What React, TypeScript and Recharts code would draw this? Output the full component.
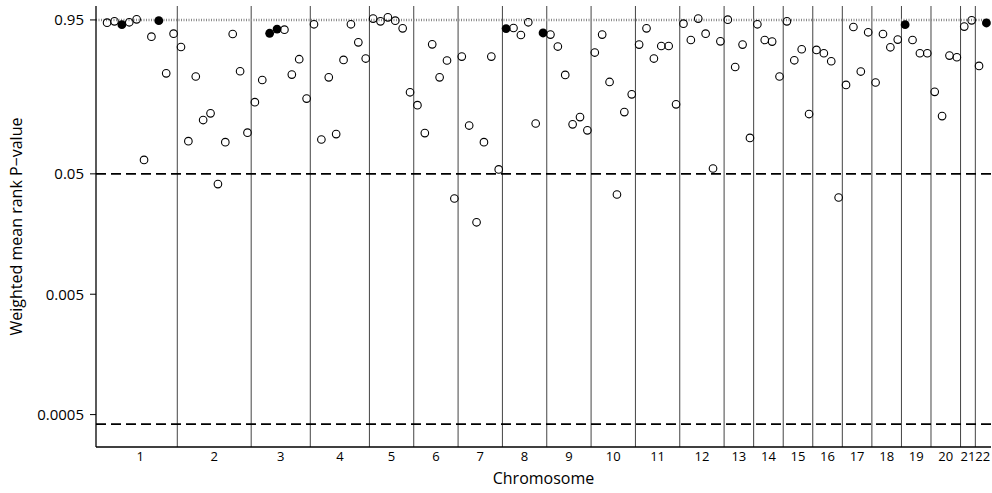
import React from 'react';
import { ScatterChart, Scatter, XAxis, YAxis, ReferenceLine } from 'recharts';

// chromosomes and how many tested loci each one holds (points are spaced by index)
const chromosomes = ['1', '2', '3', '4', '5', '6', '7', '8', '9', '10', '11', '12', '13', '14', '15', '16', '17', '18', '19', '20', '21', '22'];
const snpCounts = [10, 10, 8, 8, 6, 6, 6, 6, 6, 6, 6, 6, 4, 4, 4, 4, 4, 4, 4, 4, 2, 2];

// weighted mean rank P-values, in genome order
const pValues = [
  0.902, 0.925, 0.868, 0.908, 0.961, 0.0653, 0.69, 0.937, 0.342, 0.731,
  0.566, 0.0934, 0.322, 0.14, 0.159, 0.0411, 0.0917, 0.726, 0.356, 0.11,
  0.197, 0.301, 0.736, 0.798, 0.789, 0.334, 0.448, 0.211,
  0.874, 0.0965, 0.317, 0.107, 0.442, 0.874, 0.619, 0.454,
  0.974, 0.925, 0.998, 0.937, 0.809, 0.238,
  0.186, 0.109, 0.596, 0.317, 0.437, 0.0312,
  0.471, 0.126, 0.0198, 0.0917, 0.471, 0.0544,
  0.805, 0.814, 0.712, 0.908, 0.131, 0.74,
  0.718, 0.571, 0.332, 0.129, 0.148, 0.115,
  0.509, 0.718, 0.29, 0.0337, 0.163, 0.229,
  0.593, 0.809, 0.454, 0.577, 0.577, 0.189,
  0.885, 0.647, 0.974, 0.731, 0.0554, 0.631,
  0.955, 0.386, 0.593, 0.0995,
  0.874, 0.647, 0.628, 0.322,
  0.925, 0.439, 0.542, 0.157,
  0.535, 0.502, 0.431, 0.0318,
  0.274, 0.83, 0.354, 0.75,
  0.287, 0.726, 0.563, 0.652,
  0.868, 0.647, 0.502, 0.502,
  0.24, 0.151, 0.48, 0.465,
  0.836, 0.943,
  0.394, 0.896,
];

// positions (1-based) drawn as solid dots
const filledPositions = [3, 8, 23, 24, 55, 60, 109, 120];

const yTicks = [0.0005, 0.005, 0.05, 0.95];

const points = pValues.map((p, i) => ({ pos: i + 1, p }));
const openPoints = points.filter((d) => !filledPositions.includes(d.pos));
const filledPoints = points.filter((d) => filledPositions.includes(d.pos));

const starts = snpCounts.map((_, k) => snpCounts.slice(0, k).reduce((a, b) => a + b, 0));
const centers = starts.map((s, k) => s + (snpCounts[k] + 1) / 2);
const boundaries = starts.slice(1).map((s) => s + 0.5);
const bonferroni = 0.05 / pValues.length;

const font = '"Open Sans", sans-serif';

const OpenDot = (props: any) => (
  <circle cx={props.cx} cy={props.cy} r={3.8} fill="none" stroke="#000" strokeWidth={1.1} />
);
const SolidDot = (props: any) => <circle cx={props.cx} cy={props.cy} r={4.4} fill="#000" />;

const YTitle = (props: any) => {
  const vb = props.viewBox;
  const cx = vb.x + 16;
  const cy = vb.y + vb.height / 2;
  return (
    <text x={cx} y={cy} transform={`rotate(-90 ${cx} ${cy})`} textAnchor="middle" dominantBaseline="central"
      fontFamily={font} fontSize={16} fill="#000">
      Weighted mean rank P−value
    </text>
  );
};

const XTitle = (props: any) => {
  const vb = props.viewBox;
  return (
    <text x={vb.x + vb.width / 2} y={vb.y + 37} textAnchor="middle" fontFamily={font} fontSize={16} fill="#000">
      Chromosome
    </text>
  );
};

export default function App() {
  return (
    <div style={{ width: 992, height: 493 }}>
      <style>{'body{margin:0}'}</style>
      <ScatterChart width={992} height={493} margin={{ top: 6, right: 1, bottom: 0, left: 0 }}>
        <XAxis
          type="number"
          dataKey="pos"
          domain={[-0.5, 120.62]}
          allowDataOverflow
          ticks={centers}
          interval={0}
          tickFormatter={(_v: number, i: number) => chromosomes[i]}
          tickLine={false}
          tickSize={0}
          tickMargin={5}
          height={46}
          axisLine={{ stroke: '#000', strokeWidth: 1.3 }}
          tick={{ fontFamily: font, fontSize: 13, fill: '#000' }}
          label={<XTitle />}
        />
        <YAxis
          type="number"
          dataKey="p"
          scale="log"
          domain={[0.000269, 1.24]}
          allowDataOverflow
          ticks={yTicks}
          interval={0}
          tickFormatter={(v: number) => String(v)}
          width={96}
          tickSize={6}
          tickMargin={6}
          axisLine={{ stroke: '#000', strokeWidth: 1.3 }}
          tickLine={{ stroke: '#000' }}
          tick={{ fontFamily: font, fontSize: 15, fill: '#000' }}
          label={<YTitle />}
        />
        {boundaries.map((b) => (
          <ReferenceLine key={b} x={b} stroke="#444" strokeWidth={1} />
        ))}
        <ReferenceLine y={0.95} stroke="#8a8a8a" strokeWidth={2.5} strokeDasharray="1 1.5" />
        <ReferenceLine y={0.05} stroke="#000" strokeWidth={1.6} strokeDasharray="10 5" />
        <ReferenceLine y={bonferroni} stroke="#000" strokeWidth={1.6} strokeDasharray="10 5" />
        <Scatter data={openPoints} shape={OpenDot} isAnimationActive={false} />
        <Scatter data={filledPoints} shape={SolidDot} isAnimationActive={false} />
      </ScatterChart>
    </div>
  );
}
